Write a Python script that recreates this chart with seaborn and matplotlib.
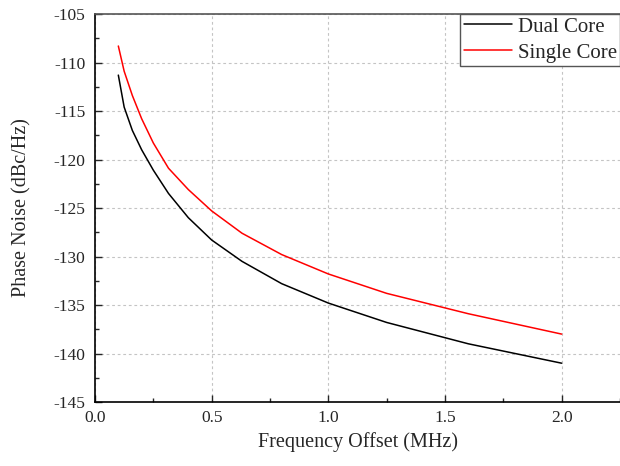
import matplotlib
matplotlib.use("Agg")
import matplotlib.pyplot as plt
import seaborn as sns
import pandas as pd
from matplotlib.ticker import MultipleLocator

# frequency offset (MHz)
freq = [0.1, 0.125, 0.16, 0.2, 0.25, 0.315, 0.4, 0.5, 0.63, 0.8, 1.0, 1.25, 1.6, 2.0]
# phase noise (dBc/Hz)
dual_core = [-111.3, -114.6, -117.0, -119.0, -121.1, -123.5, -126.0, -128.3,
             -130.5, -132.8, -134.8, -136.8, -139.0, -141.0]
single_core = [-108.3, -110.9, -113.4, -115.8, -118.3, -120.9, -123.1, -125.3,
               -127.6, -129.8, -131.8, -133.8, -135.9, -138.0]
series_names = ["Dual Core", "Single Core"]

df = pd.concat([
    pd.DataFrame({"freq": freq, "pn": dual_core, "series": series_names[0]}),
    pd.DataFrame({"freq": freq, "pn": single_core, "series": series_names[1]}),
])

sns.set_style("ticks")
plt.rcParams["font.family"] = ["Liberation Serif", "DejaVu Serif"]
plt.rcParams["axes.unicode_minus"] = False

fig = plt.figure(figsize=(6.2, 4.66), dpi=100)
ax = fig.add_axes([95 / 620, 1 - 402 / 466, 1 - 95 / 620, (402 - 14) / 466])

sns.lineplot(data=df, x="freq", y="pn", hue="series",
             palette={"Dual Core": "black", "Single Core": "#ff0000"},
             linewidth=1.1, ax=ax, legend=True)

ax.set_xlim(0, 2.25)
ax.set_ylim(-145, -105)
ax.xaxis.set_major_locator(MultipleLocator(0.5))
ax.xaxis.set_minor_locator(MultipleLocator(0.25))
ax.yaxis.set_major_locator(MultipleLocator(5))
ax.yaxis.set_minor_locator(MultipleLocator(2.5))
ax.xaxis.set_major_formatter(matplotlib.ticker.FormatStrFormatter("%.1f"))

ax.tick_params(which="major", direction="in", length=5, width=1.0,
               labelsize=12.5, top=False, right=False)
ax.tick_params(axis="y", which="major", pad=7)
ax.tick_params(axis="x", which="major", pad=6)
ax.tick_params(which="minor", direction="in", length=3, width=1.0,
               top=False, right=False)

ax.grid(True, which="major", linestyle=(0, (2.5, 2.5)), color="#c4c4c4", linewidth=0.8)

for s in ["left", "bottom"]:
    ax.spines[s].set_color("black")
    ax.spines[s].set_linewidth(1.2)
ax.spines["top"].set_visible(True)
ax.spines["top"].set_color("#555555")
ax.spines["top"].set_linewidth(1.2)
ax.spines["right"].set_visible(False)

ax.set_xlabel("Frequency Offset (MHz)", fontsize=14.5, labelpad=4)
ax.set_ylabel("Phase Noise (dBc/Hz)", fontsize=14.5, labelpad=16)

leg = ax.legend(loc="upper right", frameon=True, fancybox=False, fontsize=15,
                borderaxespad=0, handlelength=2.3, handletextpad=0.3,
                labelspacing=0.3, borderpad=0.15)
leg.get_frame().set_edgecolor("#555555")
leg.get_frame().set_linewidth(1.0)
leg.get_frame().set_alpha(1)
leg.set_title(None)

fig.savefig("out.png", dpi=100)
